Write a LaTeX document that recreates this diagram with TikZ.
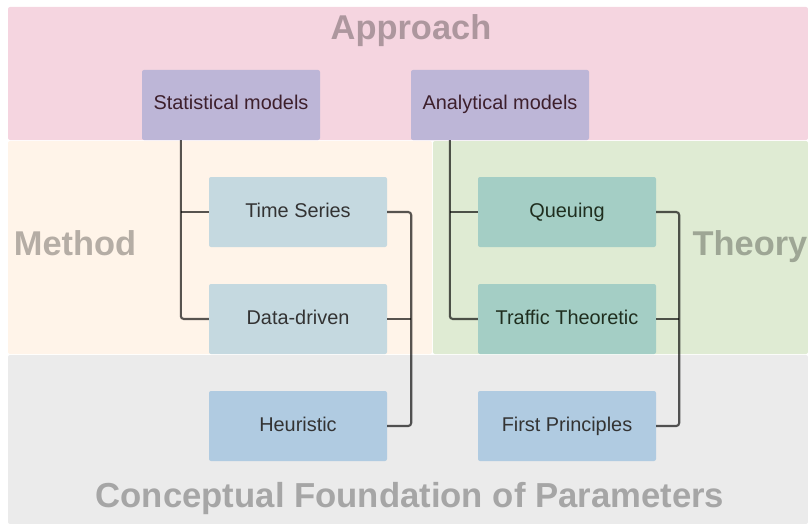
\documentclass[tikz,border=0pt]{standalone}
\usepackage{fontspec}
\setmainfont{Liberation Sans}
\usetikzlibrary{calc}
% background bands
\definecolor{bandpink}{RGB}{245,213,224}
\definecolor{bandpeach}{RGB}{255,244,233}
\definecolor{bandgreen}{RGB}{223,235,211}
\definecolor{bandgray}{RGB}{235,235,235}
% box fills
\definecolor{purplebox}{RGB}{189,182,215}
\definecolor{slatebox}{RGB}{197,217,224}
\definecolor{tealbox}{RGB}{164,206,197}
\definecolor{bluebox}{RGB}{176,203,225}
% text colours
\definecolor{maroontext}{RGB}{61,31,44}
\definecolor{slatetext}{RGB}{51,51,51}
\definecolor{greentext}{RGB}{31,46,31}
\begin{document}
\begin{tikzpicture}[x=1pt,y=-1pt,
  box/.style={rectangle, rounded corners=2pt, minimum width=178pt, minimum height=70pt,
    inner sep=0pt, text height=14pt, text depth=4pt,
    font=\fontsize{19.9}{23}\selectfont},
  band/.style={rounded corners=2pt},
  bandlabel/.style={anchor=base, inner sep=0pt, font=\bfseries\fontsize{34.4}{40}\selectfont,
    text=black, text opacity=0.29},
  tree/.style={draw=black, draw opacity=0.66, line width=2.1pt, rounded corners=3pt}]
\useasboundingbox (0,0) rectangle (808,524);

% bands
\fill[bandpink, band]  (8,7)   rectangle (808,140);
\fill[bandpeach, band] (8,141) rectangle (432,354);
\fill[bandgreen, band] (433,141) rectangle (808,354);
\fill[bandgray, band]  (8,355) rectangle (808,524);

% band titles
\node[bandlabel] (lapp) at (411,40)  {Approach};
\node[bandlabel] (lmet) at (75,255)  {Method};
\node[bandlabel] (lthe) at (750,255) {Theory};
\node[bandlabel, font=\bfseries\fontsize{34.7}{40}\selectfont] (lcon) at (410,507)
  {Conceptual Foundation of Parameters};

% boxes
\node[box, fill=purplebox, text=maroontext] (stat) at (231,105) {Statistical models};
\node[box, fill=purplebox, text=maroontext] (ana)  at (500,105) {Analytical models};
\node[box, fill=slatebox, text=slatetext] (ts)  at (298,212) {Time Series};
\node[box, fill=slatebox, text=slatetext] (dd)  at (298,319) {Data-driven};
\node[box, fill=bluebox, text=slatetext]  (heu) at (298,426) {Heuristic};
\node[box, fill=tealbox, text=greentext]  (que) at (567,212) {Queuing};
\node[box, fill=tealbox, text=greentext]  (tt)  at (567,319) {Traffic Theoretic};
\node[box, fill=bluebox, text=slatetext]  (fp)  at (567,426) {First Principles};

% approach to method / theory
\draw[tree] ([xshift=39pt]stat.south west) |- (dd.west);
\draw[tree] (ts.west) -- ++(-28,0);
\draw[tree] ([xshift=39pt]ana.south west) |- (tt.west);
\draw[tree] (que.west) -- ++(-28,0);

% method / theory to conceptual foundation
\draw[tree] (ts.east) -- ++(24,0) |- (heu.east);
\draw[tree] (dd.east) -- ++(24,0);
\draw[tree] (que.east) -- ++(23,0) |- (fp.east);
\draw[tree] (tt.east) -- ++(23,0);
\end{tikzpicture}
\end{document}
